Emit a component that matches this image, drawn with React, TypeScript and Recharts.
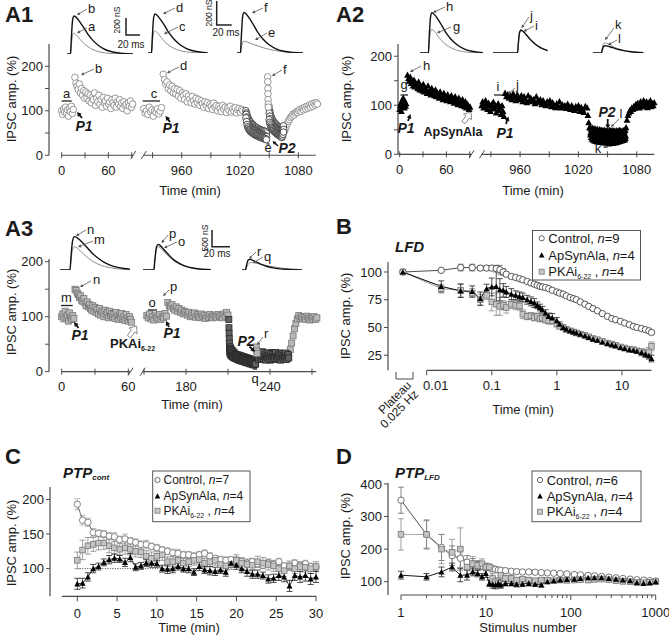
import React from 'react';
import { ScatterChart, Scatter, ComposedChart, LineChart, Line, XAxis, YAxis, ReferenceLine, ErrorBar } from 'recharts';

const FONT = '"Liberation Sans", Arial, Helvetica, sans-serif';
const AX = '#4a4a4a';
const TXT = '#1a1a1a';

// ================= A panels: sweeps {start (min), step (min), IPSC amplitude (%)} =================
const A1_BASE1 = { t0: 0, dt: 1.25, v: [100, 92, 104, 97, 108, 95, 102, 88, 105, 98, 110, 94, 103] };
const A1_PTP1 = { t0: 17, dt: 1.4, v: [175, 162, 155, 148, 160, 140, 150, 135, 145, 128, 142, 130, 138, 122, 135, 118, 130, 125, 140, 112, 128, 120, 135, 115, 125, 108, 130, 118, 122, 110, 128, 115, 120, 105, 125, 118, 112, 128, 108, 120, 115, 125, 110, 118, 105, 120, 112, 115, 100, 118, 110, 122, 108, 115] };
const A1_BASE2 = { t0: 921, dt: 1.4, v: [105, 95, 100, 92, 108, 98, 102, 88, 100, 96, 104, 93, 99, 107] };
const A1_PTP2 = { t0: 941, dt: 1.3, v: [182, 170, 160, 165, 150, 158, 145, 155, 140, 150, 138, 148, 133, 145, 128, 140, 135, 125, 138, 120, 133, 126, 118, 132, 122, 115, 128, 118, 125, 112, 122, 116, 108, 120, 112, 118, 105, 115, 110, 103, 117, 108, 112, 100, 110, 105, 98, 112, 103, 108, 96, 106, 101, 110, 97, 104, 99, 107, 95, 102, 105, 97, 103, 100] };
const A1_LFD1_HI = { t0: 1026, dt: 0.6, v: [100, 95, 91, 85, 83, 79, 78, 74, 75, 71, 71, 68, 69, 65, 66, 63, 64, 61, 62, 59, 61, 58, 59, 57, 58, 55, 57, 54, 56, 53, 55, 52, 54, 51, 53, 50] };
const A1_LFD1_MID = { t0: 1026.3, dt: 0.6, v: [92, 86, 79, 75, 71, 69, 66, 65, 63, 62, 60, 59, 58, 57, 56, 55, 55, 53, 53, 52, 51, 51, 50, 49, 49, 48, 47, 47, 46, 46, 45, 44, 44, 43, 43, 42] };
const A1_LFD1_LO = { t0: 1026.1, dt: 0.6, v: [84, 76, 69, 64, 61, 58, 57, 55, 53, 53, 51, 50, 50, 48, 48, 46, 47, 45, 45, 44, 44, 42, 43, 41, 42, 40, 41, 39, 40, 38, 39, 37, 38, 36, 37, 35] };
const A1_P2 = { t0: 1048.4, dt: 0.12, v: [176, 165, 150, 138, 125, 115, 108] };
const A1_LFD2_HI = { t0: 1049.8, dt: 0.55, v: [110, 101, 96, 89, 87, 82, 81, 77, 77, 73, 73, 70, 71, 67, 68, 65, 66, 63, 64, 61, 63, 60, 61, 58, 59, 61, 63, 66] };
const A1_LFD2_MID = { t0: 1050.1, dt: 0.55, v: [95, 88, 82, 78, 75, 72, 70, 68, 66, 64, 63, 62, 60, 59, 58, 57, 56, 55, 54, 53, 53, 52, 51, 50, 50, 52, 55, 58] };
const A1_LFD2_LO = { t0: 1049.9, dt: 0.55, v: [80, 74, 70, 66, 63, 61, 59, 57, 56, 54, 53, 52, 51, 50, 49, 48, 47, 46, 45, 45, 44, 43, 42, 41, 40, 43, 47, 52] };
const A1_REC = { t0: 1066, dt: 1.2, v: [55, 62, 70, 76, 80, 85, 88, 92, 90, 95, 98, 96, 100, 103, 99, 105, 102, 108, 104, 110, 106, 112, 108, 115, 110, 117, 113, 118, 115] };

const A2_BASE1 = { t0: 0, dt: 0.75, v: [92, 100, 105, 88, 110, 97, 115, 102, 95, 108, 99, 104] };
const A2_PTP1 = { t0: 10, dt: 1.2, v: [162, 155, 150, 158, 145, 148, 140, 152, 138, 145, 142, 135, 148, 132, 140, 138, 130, 143, 128, 135, 133, 125, 140, 128, 130, 122, 135, 125, 128, 120, 132, 118, 126, 122, 115, 128, 118, 120, 112, 125, 115, 118, 110, 122, 112, 115, 108, 120, 110, 113, 105, 118, 108, 112, 102, 115, 106, 110, 100, 112, 104, 98, 108, 95, 103, 100, 92, 97] };
const A2_BASE2 = { t0: 920.5, dt: 1.0, v: [100, 108, 95, 104, 110, 98, 92, 105, 100, 88, 102, 96, 107, 93, 100, 85, 98, 104, 90, 96, 82, 100, 88, 78] };
const A2_PTP2 = { t0: 944.5, dt: 1.4, v: [125, 118, 122, 115, 120, 112, 124, 117, 110, 122, 115, 112, 120, 108, 118, 113, 106, 120, 110, 115, 108, 112, 104, 118, 109, 106, 112, 102, 110, 105, 100, 108, 103, 110, 98, 106, 101, 96, 104, 99, 108, 95, 102, 97, 100, 94, 103, 98, 92, 100, 95, 90, 98, 93, 100, 88, 96, 91, 86, 98] };
const A2_DROP = { t0: 1029, dt: 0.8, v: [95, 80, 65, 55] };
const A2_LFD_HI = { t0: 1032.2, dt: 0.8, v: [55, 52, 50, 54, 51, 49, 53, 50, 48, 52, 49, 47, 51, 48, 50, 46, 49, 47, 50, 45, 48, 46, 49, 44, 47, 50, 46, 48, 45, 49, 46, 48, 44, 47, 49, 45, 48, 46, 50, 47, 45, 48, 46, 49, 47, 50] };
const A2_LFD_MID = { t0: 1032.6, dt: 0.8, v: [45, 42, 40, 38, 41, 37, 39, 36, 40, 35, 38, 36, 39, 34, 37, 35, 38, 33, 36, 34, 37, 35, 33, 36, 34, 38, 35, 37, 33, 36, 38, 34, 37, 35, 39, 36, 38, 35, 37, 40, 38, 36, 39, 37, 40, 38] };
const A2_LFD_LO = { t0: 1032.4, dt: 0.8, v: [40, 35, 32, 30, 33, 28, 31, 27, 30, 26, 29, 27, 25, 28, 26, 29, 24, 27, 25, 28, 26, 24, 27, 25, 22, 26, 24, 27, 25, 23, 26, 28, 24, 27, 25, 29, 26, 28, 27, 30, 28, 31, 29, 32, 30, 33] };
const A2_REC = { t0: 1069, dt: 1.0, v: [55, 70, 80, 85, 90, 88, 95, 92, 98, 94, 102, 97, 105, 100, 95, 108, 102, 98, 110, 104, 100, 108, 96, 105, 102, 110, 98, 104, 100, 106] };

const A3_BASE1 = { t0: 0, dt: 1.0, v: [100, 105, 96, 110, 98, 103, 92, 107, 99, 95, 102, 97] };
const A3_PTP1 = { t0: 12, dt: 1.0, v: [150, 148, 143, 140, 135, 138, 130, 128, 133, 125, 120, 127, 118, 122, 115, 112, 120, 110, 117, 108, 113, 105, 115, 103, 110, 107, 100, 112, 104, 108, 98, 110, 102, 106, 100, 104, 97, 108, 101, 95, 103, 99, 106, 96, 100, 93, 104, 97, 92, 100, 95, 90] };
const A3_BASE2 = { t0: 152, dt: 1.0, v: [102, 98, 105, 96, 100, 94, 103, 99, 97, 104, 95, 100, 98, 106, 101] };
const A3_PTP2 = { t0: 167, dt: 1.0, v: [126, 120, 118, 122, 115, 112, 118, 110, 115, 108, 112, 105, 110, 107, 103, 108, 100, 105, 102, 107, 99, 104, 101, 98, 105, 100, 103, 97, 102, 99, 104, 100, 98, 103, 101, 99, 104, 100, 102, 98, 105, 101, 108, 103] };
const A3_DROP = { t0: 210.6, dt: 0.1, v: [95, 80, 70, 60, 52, 45, 40, 36, 33] };
const A3_LFD1_HI = { t0: 211.6, dt: 0.4, v: [45, 42, 40, 38, 38, 35, 36, 33, 34, 31, 31, 30, 28, 31, 29, 27, 30, 28, 26, 29, 27, 25, 28, 26, 24, 27, 25, 23, 26, 24, 22, 25, 23, 21, 24, 22, 20, 23, 21, 19, 22, 20, 18, 21, 19, 20] };
const A3_LFD1_MID = { t0: 211.8, dt: 0.4, v: [38, 36, 34, 33, 33, 31, 31, 29, 30, 28, 28, 27, 25, 28, 26, 24, 27, 25, 23, 26, 24, 22, 25, 23, 21, 24, 22, 20, 23, 21, 19, 22, 20, 18, 21, 19, 17, 20, 18, 16, 19, 17, 15, 18, 16, 17] };
const A3_LFD1_LO = { t0: 211.7, dt: 0.4, v: [32, 30, 29, 28, 28, 26, 27, 25, 26, 24, 25, 24, 22, 25, 23, 21, 24, 22, 20, 23, 21, 19, 22, 20, 18, 21, 19, 17, 20, 18, 16, 19, 17, 15, 18, 16, 14, 17, 15, 13, 16, 14, 12, 15, 13, 14] };
const A3_P2 = { t0: 230.2, dt: 0.3, v: [45, 38, 33] };
const A3_LFD2_A = { t0: 231.2, dt: 0.5, v: [30, 35, 25, 32, 28, 36, 24, 31, 27, 34, 23, 30, 26, 33, 22, 29, 25, 32, 21, 28, 35, 24, 30, 26, 33, 22, 29, 25, 31, 23, 28, 34, 24, 30, 26, 32, 22, 29, 25, 31, 27, 33, 24, 30, 28] };
const A3_LFD2_B = { t0: 231.45, dt: 0.5, v: [27, 22, 33, 26, 31, 23, 29, 36, 24, 28, 32, 21, 27, 34, 25, 30, 23, 28, 33, 26, 22, 31, 27, 24, 29, 35, 23, 28, 26, 32, 24, 29, 21, 27, 33, 25, 30, 23, 28, 34, 26, 22, 29, 31, 25] };
const A3_REC = { t0: 254.5, dt: 1.0, v: [40, 52, 65, 78, 88, 96, 102, 97, 100, 96, 99, 95, 101, 97, 94, 99, 96, 100, 95, 98] };

// broken time axes: {t0, t1, d0 (axis units at t0), k (units per min)}
type Seg = { t0: number; t1: number; d0: number; k: number };
const A1_SEGS: Seg[] = [{ t0: 0, t1: 92, d0: 12.7, k: 0.778 }, { t0: 921, t1: 1098, d0: 94.8, k: 0.972 }];
const A2_SEGS: Seg[] = [{ t0: 0, t1: 92, d0: 1.7, k: 0.778 }, { t0: 920.5, t1: 1098, d0: 83.7, k: 0.972 }];
const A3_SEGS: Seg[] = [{ t0: 0, t1: 62, d0: 12.7, k: 1.11 }, { t0: 149, t1: 273, d0: 93.6, k: 1.4 }];
const A1_XT = [[0, '0'], [30, ''], [60, '60'], [90, ''], [930, ''], [960, '960'], [990, ''], [1020, '1020'], [1050, ''], [1080, '1080']];
const A2_XT = A1_XT;
const A3_XT = [[0, '0'], [30, ''], [60, '60'], [150, ''], [180, '180'], [210, ''], [240, '240'], [270, '']];

// ================= Insets: sample traces (ms, nS) =================
const TR_T = [-40, -5, 0, 1, 3, 5, 7, 10, 14, 19, 25, 32, 40, 50, 62, 75, 90];
const TR_A = [0, 0, 0, 90, 225, 247, 235, 210, 170, 125, 85, 52, 28, 12, 4, 1, 0];
const TR_B = [0, 0, 0, 150, 400, 447, 440, 415, 370, 310, 230, 160, 100, 50, 20, 6, 0];
const TR_C = [0, 0, 0, 95, 235, 260, 248, 222, 180, 132, 90, 55, 30, 13, 4, 1, 0];
const TR_D = [0, 0, 0, 155, 410, 459, 450, 425, 380, 318, 236, 164, 102, 51, 20, 6, 0];
const TR_E = [0, 0, 0, 50, 120, 137, 135, 128, 115, 100, 82, 63, 45, 28, 14, 5, 0];
const TR_F = [0, 0, 0, 160, 425, 478, 468, 440, 392, 325, 240, 165, 103, 52, 20, 6, 0];
const TR_G = [0, 0, 0, 100, 250, 279, 268, 240, 195, 145, 100, 62, 35, 15, 5, 1, 0];
const TR_H = [0, 0, 0, 160, 420, 474, 465, 440, 392, 325, 240, 165, 103, 52, 20, 6, 0];
const TR_I = [0, 0, 0, 90, 235, 262, 255, 235, 200, 155, 110, 70, 40, 18, 6, 2, 0];
const TR_J = [0, 0, 0, 95, 245, 270, 262, 238, 200, 152, 105, 65, 36, 16, 5, 1, 0];
const TR_K = [0, 0, 0, 45, 108, 121, 116, 104, 86, 65, 45, 28, 16, 7, 2, 0, 0];
const TR_L = [0, 0, 0, 30, 76, 86, 84, 78, 68, 55, 41, 28, 17, 8, 3, 1, 0];
const TR_M = [0, 0, 0, 250, 620, 700, 680, 620, 520, 400, 280, 180, 105, 50, 20, 6, 0];
const TR_N = [0, 0, 0, 350, 880, 1000, 985, 930, 830, 690, 520, 360, 220, 110, 45, 15, 0];
const TR_O = [0, 0, 0, 240, 620, 700, 670, 600, 490, 360, 240, 145, 80, 35, 12, 3, 0];
const TR_P = [0, 0, 0, 270, 690, 770, 740, 660, 540, 400, 265, 160, 88, 38, 13, 4, 0];
const TR_Q = [0, 0, 0, 60, 170, 220, 225, 215, 195, 165, 130, 95, 62, 33, 14, 5, 0];
const TR_R = [0, 0, 0, 120, 290, 320, 305, 270, 220, 160, 105, 62, 34, 14, 5, 1, 0];

// ================= B: LFD (time in min, % of plateau) =================
const B_PLATEAU = 0.0043; // axis position of the "Plateau 0.025 Hz" point
const B_T = [0.0167, 0.0333, 0.05, 0.0667, 0.0833, 0.1, 0.117, 0.133, 0.15, 0.167, 0.2, 0.233, 0.267, 0.3, 0.35, 0.4, 0.45, 0.5, 0.55, 0.6, 0.67, 0.75, 0.85, 1.0, 1.1, 1.25, 1.4, 1.6, 1.8, 2.0, 2.3, 2.7, 3.1, 3.6, 4.2, 5, 6, 7, 8, 9.5, 11, 13, 15, 17, 20, 23, 26, 28.5];
const B_CTRL = [101.5, 104, 104, 103.5, 103.5, 103.5, 103, 102, 100, 98, 96, 95, 94, 93, 91.5, 90, 89, 88, 87, 86.5, 86, 85, 83.5, 82, 81, 80, 78.5, 77, 76, 75, 73, 71, 69, 67, 65, 62.5, 60, 58, 57, 55.5, 54, 52.5, 51, 50, 49, 48, 47, 45.5];
const B_CTRL_E = [1, 3, 3, 2, 2, 2, 3, 4, 3, 2, 2, 2, 2, 1, 1, 1, 1, 1, 1, 1, 1, 1, 1, 1, 1, 1, 1, 1, 1, 1, 1, 1, 1, 1, 1, 1, 1, 1, 1, 1, 1, 1, 1, 1, 1, 1, 1, 1];
const B_APS = [87, 83, 82.5, 76, 85, 86.5, 87, 84, 83.5, 82, 80, 79, 78, 77, 75, 73.5, 72, 70, 68, 66, 63, 60, 58.5, 56, 53, 50, 48.5, 47, 46, 45, 44, 42.5, 41, 39.5, 38.5, 37, 35.5, 34.5, 33.5, 32, 31, 30, 29.5, 28.5, 27.5, 26, 24.5, 22];
const B_APS_E = [5, 6, 5, 6, 4, 8, 15, 10, 6, 5, 5, 4, 4, 4, 4, 4, 4, 3, 3, 3, 3, 3, 4, 3, 2, 2, 2, 2, 2, 2, 2, 2, 2, 2, 2, 2, 2, 2, 2, 2, 2, 2, 2, 2, 3, 3, 3, 3];
const B_PKA = [85, 83.5, 81, 75, 79, 73, 71, 69, 70, 68, 71, 70, 69.5, 62, 60, 60.5, 59, 60, 58, 58.5, 57, 56, 56, 53, 51, 50, 48, 47, 46, 45, 44, 43, 41.5, 40, 39, 37.5, 36, 35, 34, 32.5, 31.5, 30.5, 30, 29, 28, 27, 28, 33];
const B_PKA_E = [4, 6, 4, 5, 4, 8, 10, 8, 4, 5, 4, 4, 4, 4, 3, 3, 3, 3, 3, 3, 3, 3, 3, 2, 2, 2, 2, 2, 2, 2, 2, 2, 2, 2, 2, 2, 2, 2, 2, 2, 2, 2, 2, 2, 2, 3, 4, 4];

// ================= C: PTP cont (sweeps every 40 s) =================
const C_DT = 40 / 60;
const C_CTRL = [193, 170, 167, 152, 151, 150, 147, 146, 142, 143, 140, 138, 135, 135, 132, 130, 127, 125, 123, 122, 120, 120, 118, 120, 122, 118, 115, 113, 112, 113, 112, 110, 108, 110, 107, 105, 108, 106, 110, 104, 103, 108, 105, 107, 103, 102];
const C_CTRL_E = [8, 7, 6, 6, 5, 5, 5, 6, 5, 7, 5, 5, 5, 6, 5, 5, 5, 5, 5, 6, 5, 5, 5, 5, 5, 5, 4, 5, 5, 4, 5, 5, 4, 5, 5, 4, 5, 5, 5, 4, 5, 5, 4, 5, 5, 4];
const C_APS = [78, 79, 88, 100, 103, 109, 113, 115, 114, 109, 116, 102, 104, 108, 108, 107, 100, 99, 100, 103, 100, 100, 95, 103, 98, 97, 96, 98, 95, 108, 105, 100, 96, 92, 92, 90, 85, 86, 90, 88, 75, 90, 88, 90, 85, 88];
const C_APS_E = [8, 7, 6, 6, 5, 5, 6, 6, 5, 6, 6, 5, 5, 5, 6, 5, 5, 6, 6, 5, 5, 6, 5, 6, 5, 6, 6, 5, 6, 6, 6, 6, 7, 6, 6, 5, 6, 6, 7, 7, 8, 7, 8, 8, 8, 8];
const C_PKA = [112, 127, 133, 135, 137, 137, 133, 130, 128, 130, 128, 125, 124, 118, 115, 118, 120, 110, 110, 112, 108, 110, 112, 113, 108, 110, 112, 106, 104, 106, 112, 108, 106, 105, 110, 108, 106, 104, 100, 97, 104, 100, 103, 102, 100, 103];
const C_PKA_E = [12, 14, 12, 10, 10, 9, 10, 9, 8, 9, 8, 8, 8, 8, 9, 8, 8, 7, 7, 8, 7, 7, 7, 7, 7, 7, 7, 7, 7, 7, 8, 8, 8, 8, 8, 8, 8, 8, 8, 8, 7, 7, 7, 7, 7, 7];

// ================= D: PTP LFD (stimulus number) =================
const D_N = [1, 2, 3, 4, 5, 6, 7, 8, 9, 10, 11, 12, 13, 14, 15, 17, 20, 23, 27, 32, 38, 45, 53, 63, 75, 90, 110, 130, 160, 190, 230, 280, 340, 410, 500, 600, 720, 850, 1000];
const D_CTRL = [350, 245, 205, 180, 172, 160, 155, 150, 148, 145, 143, 140, 138, 136, 135, 134, 132, 131, 130, 130, 129, 128, 127, 126, 125, 124, 122, 121, 119, 118, 116, 114, 112, 110, 108, 106, 105, 103, 102];
const D_CTRL_E = [40, 42, 40, 30, 28, 20, 16, 12, 10, 10, 8, 8, 7, 7, 6, 6, 5, 5, 5, 5, 4, 4, 4, 4, 4, 4, 4, 4, 3, 3, 3, 3, 3, 3, 3, 3, 3, 3, 3];
const D_PKA = [245, 245, 200, 190, 200, 145, 155, 150, 155, 145, 145, 110, 100, 95, 120, 110, 110, 105, 108, 105, 103, 105, 104, 103, 105, 104, 105, 106, 105, 107, 108, 106, 103, 101, 100, 98, 97, 98, 100];
const D_PKA_E = [48, 45, 45, 40, 65, 22, 22, 15, 15, 12, 10, 15, 12, 12, 15, 10, 10, 8, 8, 8, 6, 6, 6, 5, 5, 5, 5, 5, 5, 5, 5, 5, 4, 4, 4, 4, 4, 4, 4];
const D_APS = [120, 115, 130, 145, 120, 120, 130, 125, 115, 125, 95, 92, 90, 95, 90, 95, 95, 92, 93, 95, 92, 90, 100, 103, 105, 107, 108, 110, 112, 112, 112, 110, 108, 105, 103, 97, 95, 97, 100];
const D_APS_E = [12, 10, 15, 12, 20, 15, 12, 10, 10, 12, 10, 12, 12, 10, 10, 8, 8, 8, 8, 8, 6, 6, 6, 6, 6, 5, 5, 5, 5, 5, 5, 5, 5, 5, 5, 5, 5, 5, 5];
const D_MINOR = [2, 3, 4, 5, 6, 7, 8, 9, 20, 30, 40, 50, 60, 70, 80, 90, 200, 300, 400, 500, 600, 700, 800, 900];

// ================= helpers =================
type Box = { x0: number; y0: number; x1: number; y1: number };
const frame = (b: Box, yw = 44) => {
  const ml = 4, mt = 8, mr = 24, mb = 4, xh = 30;
  return {
    style: { position: 'absolute' as const, left: b.x0 - yw - ml, top: b.y0 - mt },
    width: b.x1 - b.x0 + yw + ml + mr,
    height: b.y1 - b.y0 + mt + xh + mb,
    margin: { left: ml, top: mt, right: mr, bottom: mb },
    yw,
  };
};
const toD = (segs: Seg[], t: number) => {
  const s = segs.find((g) => t >= g.t0 - 15 && t <= g.t1 + 15) || segs[0];
  return s.d0 + s.k * (t - s.t0);
};
const pts = (segs: Seg[], s: { t0: number; dt: number; v: number[] }) => s.v.map((v, i) => ({ x: toD(segs, s.t0 + i * s.dt), y: v }));
const rows = (xs: number[], ys: number[], es: number[]) => xs.map((x, i) => ({ x, y: ys[i], e: es[i] }));

const circ = (stroke: string, r = 3.3, fill = '#fff') => (p: any) => <circle key={`c${p.index}`} cx={p.cx} cy={p.cy} r={r} fill={fill} stroke={stroke} strokeWidth={0.9} />;
const tri = (fill: string, s = 3.3) => (p: any) => <path key={`t${p.index}`} d={`M${p.cx},${p.cy - s}L${p.cx + s},${p.cy + s * 0.85}L${p.cx - s},${p.cy + s * 0.85}Z`} fill={fill} />;
const sq = (fill: string, stroke: string, s = 3) => (p: any) => <rect key={`s${p.index}`} x={p.cx - s} y={p.cy - s} width={2 * s} height={2 * s} fill={fill} stroke={stroke} strokeWidth={0.8} />;

const makeTick = (labelOf: (v: number) => string, mode: 'up' | 'down' | 'cross', dy: number, isMajor: (v: number) => boolean = () => true, dxOf: (v: number) => number = () => 0) => (p: any) => {
  const v = p.payload.value;
  const lab = labelOf(v);
  const len = isMajor(v) ? 5 : 3;
  const y1 = mode === 'down' ? p.y : p.y - (mode === 'cross' ? 3 : len);
  const y2 = mode === 'up' ? p.y : p.y + (mode === 'cross' ? 3 : len);
  return (
    <g>
      <line x1={p.x} x2={p.x} y1={y1} y2={y2} stroke={AX} strokeWidth={1} />
      {lab ? <text x={p.x + dxOf(v)} y={p.y + dy} textAnchor="middle" fontSize={13} fill={TXT}>{lab}</text> : null}
    </g>
  );
};

const yAxisProps = { axisLine: { stroke: AX, strokeWidth: 1.2 }, tickLine: { stroke: AX }, tick: { fontSize: 13, fill: TXT }, tickSize: 4, interval: 0 as const };

const APanel = ({ box, segs, yMax, xt, series, spans }: any) => {
  const f = frame(box);
  const tks = xt.map((k: any) => ({ d: toD(segs, k[0]), l: k[1] }));
  const lab = (v: number) => { const m = tks.find((k: any) => Math.abs(k.d - v) < 0.01); return m ? m.l : ''; };
  return (
    <div style={f.style}>
      <ScatterChart width={f.width} height={f.height} margin={f.margin}>
        <XAxis type="number" dataKey="x" domain={[0, box.x1 - box.x0]} ticks={tks.map((k: any) => k.d)} tick={makeTick(lab, 'cross', 19.5)} tickSize={0} tickMargin={0} tickLine={false} axisLine={false} interval={0} />
        <YAxis type="number" dataKey="y" domain={[0, yMax]} ticks={[0, 50, 100, 150, 200]} width={f.yw} tickFormatter={(v: number) => (v % 100 === 0 ? String(v) : '')} {...yAxisProps} />
        {spans.map((s: number[], i: number) => (
          <ReferenceLine key={`ax${i}`} segment={[{ x: toD(segs, s[0]), y: 0 }, { x: toD(segs, s[1]), y: 0 }]} stroke={AX} strokeWidth={1.2} ifOverflow="visible" />
        ))}
        {series.map((s: any, i: number) => <Scatter key={`s${i}`} data={s.data} shape={s.shape} isAnimationActive={false} />)}
      </ScatterChart>
    </div>
  );
};

const Inset = ({ onset, base, pxms, nspx, tMin, tMax, h, g, k }: any) => {
  const data = TR_T.map((t, i) => ({ t, g: g[i], k: k[i] }));
  return (
    <div style={{ position: 'absolute', left: onset + tMin * pxms, top: base - h }}>
      <LineChart width={(tMax - tMin) * pxms} height={h} margin={{ top: 0, right: 0, bottom: 0, left: 0 }} data={data}>
        <XAxis dataKey="t" type="number" domain={[tMin, tMax]} hide allowDataOverflow />
        <YAxis type="number" domain={[0, h * nspx]} hide allowDataOverflow />
        <Line dataKey="g" type="monotone" stroke="#8c8c8c" strokeWidth={1} dot={false} isAnimationActive={false} />
        <Line dataKey="k" type="monotone" stroke="#111" strokeWidth={1.4} dot={false} isAnimationActive={false} />
      </LineChart>
    </div>
  );
};

// ================= overlay pieces =================
const Arrow = ({ x1, y1, x2, y2, w = 0.8, c = '#555', head = 3.5 }: any) => {
  const a = Math.atan2(y2 - y1, x2 - x1);
  const p1 = [x2 - head * Math.cos(a - 0.5), y2 - head * Math.sin(a - 0.5)];
  const p2 = [x2 - head * Math.cos(a + 0.5), y2 - head * Math.sin(a + 0.5)];
  return (
    <g>
      <line x1={x1} y1={y1} x2={x2 - 0.6 * head * Math.cos(a)} y2={y2 - 0.6 * head * Math.sin(a)} stroke={c} strokeWidth={w} />
      <path d={`M${x2},${y2}L${p1[0]},${p1[1]}L${p2[0]},${p2[1]}Z`} fill={c} />
    </g>
  );
};
const OpenArrow = ({ x, y }: any) => (
  <path transform={`translate(${x},${y}) rotate(-55)`} d="M0,0 L-6,-5 L-6,-2 L-13,-2 L-13,2 L-6,2 L-6,5 Z" fill="#fff" stroke="#8a8a8a" strokeWidth={0.9} />
);
const T = ({ x, y, s = 13, a = 'start', b, i, children }: any) => (
  <text x={x} y={y} fontSize={s} textAnchor={a} fontWeight={b ? 'bold' : undefined} fontStyle={i ? 'italic' : undefined} fill={TXT}>{children}</text>
);
const VT = ({ x, y, s = 13, children }: any) => (
  <text transform={`translate(${x},${y}) rotate(-90)`} textAnchor="middle" fontSize={s} fill={TXT}>{children}</text>
);
const P = ({ x, y, n }: any) => <T x={x} y={y} s={14} a="middle" b i>{n}</T>;
const Bar = ({ x1, x2, y }: any) => <line x1={x1} x2={x2} y1={y} y2={y} stroke="#222" strokeWidth={1.3} />;
const Slash = ({ x, y }: any) => <line x1={x - 2.5} y1={y + 4} x2={x + 2.5} y2={y - 4} stroke={AX} strokeWidth={1} />;

const Mk = ({ kind, x, y }: any) => {
  if (kind === 'c') return <circle cx={x} cy={y} r={2.6} fill="#fff" stroke="#555" strokeWidth={0.9} />;
  if (kind === 't') return <path d={`M${x},${y - 2.8}L${x + 2.8},${y + 2.4}L${x - 2.8},${y + 2.4}Z`} fill="#000" />;
  return <rect x={x - 2.5} y={y - 2.5} width={5} height={5} fill="#c8c8c8" stroke="#777" strokeWidth={0.8} />;
};
const LegendSvg = ({ x, y, w, h, ys, mx, tx, ns, s = 13 }: any) => (
  <g>
    <rect x={x} y={y} width={w} height={h} fill="#fff" stroke="#555" strokeWidth={1} />
    <Mk kind="c" x={mx} y={ys[0]} />
    <Mk kind="t" x={mx} y={ys[1]} />
    <Mk kind="s" x={mx} y={ys[2]} />
    <text x={tx} y={ys[0] + s * 0.36} fontSize={s} fill={TXT}>Control, <tspan fontStyle="italic">n</tspan>={ns[0]}</text>
    <text x={tx} y={ys[1] + s * 0.36} fontSize={s} fill={TXT}>ApSynAla, <tspan fontStyle="italic">n</tspan>={ns[1]}</text>
    <text x={tx} y={ys[2] + s * 0.36} fontSize={s} fill={TXT}>PKAi<tspan fontSize={7} dy={3}>6-22</tspan><tspan dy={-3}> , </tspan><tspan fontStyle="italic">n</tspan>={ns[2]}</text>
  </g>
);

// ================= main =================
const A1_BOX = { x0: 49, y0: 43.75, x1: 320, y1: 155 };
const A2_BOX = { x0: 398.3, y0: 44, x1: 656, y1: 154.3 };
const A3_BOX = { x0: 49, y0: 259, x1: 319, y1: 371.7 };
const B_BOX = { x0: 388, y0: 261.7, x1: 651.5, y1: 370 };
const C_BOX = { x0: 50, y0: 486.7, x1: 316, y1: 596 };
const D_BOX = { x0: 388, y0: 483, x1: 655.7, y1: 595 };

export default function App() {
  const gO = circ('#8a8a8a');
  const gOd = circ('#3a3a3a');
  const bT = tri('#000', 3.4);
  const sqL = sq('#b8b8b8', '#777', 3);
  const sqD = sq('#606060', '#2a2a2a', 3);

  const a1 = [A1_BASE1, A1_PTP1, A1_BASE2, A1_PTP2, A1_REC].map((s) => ({ data: pts(A1_SEGS, s), shape: gO }))
    .concat([A1_LFD1_HI, A1_LFD1_MID, A1_LFD1_LO, A1_LFD2_HI, A1_LFD2_MID, A1_LFD2_LO].map((s) => ({ data: pts(A1_SEGS, s), shape: gOd })))
    .concat([{ data: pts(A1_SEGS, A1_P2), shape: gO }]);
  const a2 = [A2_BASE1, A2_PTP1, A2_BASE2, A2_PTP2, A2_DROP, A2_LFD_HI, A2_LFD_MID, A2_LFD_LO, A2_REC].map((s) => ({ data: pts(A2_SEGS, s), shape: bT }));
  const a3 = [A3_BASE1, A3_PTP1, A3_BASE2, A3_PTP2, A3_REC].map((s) => ({ data: pts(A3_SEGS, s), shape: sqL }))
    .concat([A3_DROP, A3_LFD1_HI, A3_LFD1_MID, A3_LFD1_LO, A3_LFD2_A, A3_LFD2_B].map((s) => ({ data: pts(A3_SEGS, s), shape: sqD })))
    .concat([{ data: pts(A3_SEGS, A3_P2), shape: sqL }]);

  const bF = frame(B_BOX), cF = frame(C_BOX), dF = frame(D_BOX);
  const bCtrl = [{ x: B_PLATEAU, y: 100, e: 0 }, ...rows(B_T, B_CTRL, B_CTRL_E)];
  const bAps = [{ x: B_PLATEAU, y: 100, e: 0 }, ...rows(B_T, B_APS, B_APS_E)];
  const bPka = [{ x: B_PLATEAU, y: 100, e: 0 }, ...rows(B_T, B_PKA, B_PKA_E)];
  const cT = C_CTRL.map((_, i) => i * C_DT);
  const cCtrl = rows(cT, C_CTRL, C_CTRL_E), cAps = rows(cT, C_APS, C_APS_E), cPka = rows(cT, C_PKA, C_PKA_E);
  const dCtrl = rows(D_N, D_CTRL, D_CTRL_E), dAps = rows(D_N, D_APS, D_APS_E), dPka = rows(D_N, D_PKA, D_PKA_E);

  const bLab = (v: number) => ({ 0.01: '0.01', 0.1: '0.1', 1: '1', 10: '10' } as any)[String(v)] || '';
  const dLab = (v: number) => ([1, 10, 100, 1000].includes(v) ? String(v) : '');

  const px1 = (segs: Seg[], x0: number, t: number) => x0 + toD(segs, t);

  return (
    <div style={{ position: 'absolute', left: 0, top: 0, width: 669, height: 635, background: '#fff', fontFamily: FONT, overflow: 'hidden' }}>
      <APanel box={A1_BOX} segs={A1_SEGS} yMax={250} xt={A1_XT} series={a1} spans={[[0, 92], [921, 1098]]} />
      <APanel box={A2_BOX} segs={A2_SEGS} yMax={225} xt={A2_XT} series={a2} spans={[[-2, 92], [920.5, 1098]]} />
      <APanel box={A3_BOX} segs={A3_SEGS} yMax={205} xt={A3_XT} series={a3} spans={[[0, 62], [149, 273]]} />

      <Inset onset={70} base={54} pxms={0.7} nspx={11.76} tMin={-5} tMax={90} h={46} g={TR_A} k={TR_B} />
      <Inset onset={151.7} base={53.3} pxms={0.7} nspx={11.76} tMin={-5} tMax={80} h={46} g={TR_C} k={TR_D} />
      <Inset onset={240} base={53.3} pxms={0.7} nspx={11.76} tMin={-5} tMax={90} h={46} g={TR_E} k={TR_F} />
      <Inset onset={428.3} base={53} pxms={0.7} nspx={11.76} tMin={-12} tMax={78} h={46} g={TR_G} k={TR_H} />
      <Inset onset={517.7} base={53} pxms={0.7} nspx={11.76} tMin={-35} tMax={43} h={46} g={TR_I} k={TR_J} />
      <Inset onset={601.7} base={53} pxms={0.7} nspx={11.76} tMin={-12} tMax={60} h={46} g={TR_K} k={TR_L} />
      <Inset onset={70} base={270} pxms={0.87} nspx={30} tMin={-11.5} tMax={69} h={42} g={TR_M} k={TR_N} />
      <Inset onset={154} base={270} pxms={0.87} nspx={30} tMin={-12.5} tMax={66} h={42} g={TR_O} k={TR_P} />
      <Inset onset={245} base={270} pxms={0.87} nspx={30} tMin={-4} tMax={65} h={42} g={TR_Q} k={TR_R} />

      {/* B: LFD */}
      <div style={bF.style}>
        <ComposedChart width={bF.width} height={bF.height} margin={bF.margin}>
          <XAxis type="number" dataKey="x" scale="log" domain={[0.00254, 28.5]} ticks={[0.01, 0.1, 1, 10]} tick={makeTick(bLab, 'down', 20, () => true, (v) => (v === 0.01 ? 9 : 0))} tickSize={0} tickMargin={0} tickLine={false} axisLine={false} interval={0} />
          <YAxis type="number" domain={[11.4, 109]} ticks={[25, 50, 75, 100]} width={bF.yw} {...yAxisProps} />
          <ReferenceLine segment={[{ x: 0.01, y: 11.4 }, { x: 28.5, y: 11.4 }]} stroke={AX} strokeWidth={1.2} ifOverflow="visible" />
          <Line data={bPka} dataKey="y" stroke="#9a9a9a" strokeWidth={0.9} dot={sq('#c4c4c4', '#777', 2.8)} activeDot={false} isAnimationActive={false}>
            <ErrorBar dataKey="e" width={3} stroke="#8a8a8a" strokeWidth={0.8} direction="y" />
          </Line>
          <Line data={bCtrl} dataKey="y" stroke="#222" strokeWidth={0.8} dot={circ('#444', 3.2)} activeDot={false} isAnimationActive={false}>
            <ErrorBar dataKey="e" width={3} stroke="#666" strokeWidth={0.8} direction="y" />
          </Line>
          <Line data={bAps} dataKey="y" stroke="#000" strokeWidth={1} dot={tri('#000', 3)} activeDot={false} isAnimationActive={false}>
            <ErrorBar dataKey="e" width={3} stroke="#222" strokeWidth={0.8} direction="y" />
          </Line>
        </ComposedChart>
      </div>

      {/* C: PTP cont */}
      <div style={cF.style}>
        <ComposedChart width={cF.width} height={cF.height} margin={cF.margin}>
          <XAxis type="number" dataKey="x" domain={[-3.43, 30]} ticks={[0, 5, 10, 15, 20, 25, 30]} tick={makeTick((v) => String(v), 'down', 22)} tickSize={0} tickMargin={0} tickLine={false} axisLine={false} interval={0} />
          <YAxis type="number" domain={[60, 218]} ticks={[100, 150, 200]} width={cF.yw} {...yAxisProps} />
          <ReferenceLine segment={[{ x: -1.92, y: 60 }, { x: 30, y: 60 }]} stroke={AX} strokeWidth={1.2} ifOverflow="visible" />
          <ReferenceLine segment={[{ x: 0, y: 100 }, { x: 10.5, y: 100 }]} stroke="#333" strokeWidth={1} strokeDasharray="1 1.5" ifOverflow="visible" />
          <Line data={cCtrl} dataKey="y" stroke="#555" strokeWidth={0.8} dot={circ('#777', 3.2)} activeDot={false} isAnimationActive={false}>
            <ErrorBar dataKey="e" width={3} stroke="#aaa" strokeWidth={0.8} direction="y" />
          </Line>
          <Line data={cPka} dataKey="y" stroke="#9a9a9a" strokeWidth={0.9} dot={sq('#c4c4c4', '#777', 2.8)} activeDot={false} isAnimationActive={false}>
            <ErrorBar dataKey="e" width={3} stroke="#888" strokeWidth={0.8} direction="y" />
          </Line>
          <Line data={cAps} dataKey="y" stroke="#000" strokeWidth={0.8} dot={tri('#000', 3)} activeDot={false} isAnimationActive={false}>
            <ErrorBar dataKey="e" width={3} stroke="#222" strokeWidth={0.8} direction="y" />
          </Line>
        </ComposedChart>
      </div>

      {/* D: PTP LFD */}
      <div style={dF.style}>
        <ComposedChart width={dF.width} height={dF.height} margin={dF.margin}>
          <XAxis type="number" dataKey="x" scale="log" domain={[0.703, 1000]} ticks={[1, 10, 100, 1000, ...D_MINOR]} tick={makeTick(dLab, 'down', 22, (v) => [1, 10, 100, 1000].includes(v))} tickSize={0} tickMargin={0} tickLine={false} axisLine={false} interval={0} />
          <YAxis type="number" domain={[59.2, 402.8]} ticks={[100, 200, 300, 400]} width={dF.yw} {...yAxisProps} />
          <ReferenceLine segment={[{ x: 1, y: 59.2 }, { x: 1000, y: 59.2 }]} stroke={AX} strokeWidth={1.2} ifOverflow="visible" />
          <Line data={dCtrl} dataKey="y" stroke="#222" strokeWidth={0.8} dot={circ('#666', 3.2)} activeDot={false} isAnimationActive={false}>
            <ErrorBar dataKey="e" width={3} stroke="#666" strokeWidth={0.8} direction="y" />
          </Line>
          <Line data={dPka} dataKey="y" stroke="#a0a0a0" strokeWidth={0.9} dot={sq('#c4c4c4', '#777', 2.8)} activeDot={false} isAnimationActive={false}>
            <ErrorBar dataKey="e" width={3} stroke="#888" strokeWidth={0.8} direction="y" />
          </Line>
          <Line data={dAps} dataKey="y" stroke="#000" strokeWidth={0.9} dot={tri('#000', 3)} activeDot={false} isAnimationActive={false}>
            <ErrorBar dataKey="e" width={3} stroke="#222" strokeWidth={0.8} direction="y" />
          </Line>
        </ComposedChart>
      </div>

      {/* annotation overlay */}
      <svg width={669} height={635} style={{ position: 'absolute', left: 0, top: 0, pointerEvents: 'none', fontFamily: FONT }}>
        <T x={5} y={22} s={22} b>A1</T>
        <T x={336} y={22} s={22} b>A2</T>
        <T x={5} y={236} s={22} b>A3</T>
        <T x={336} y={234} s={22} b>B</T>
        <T x={5} y={464} s={22} b>C</T>
        <T x={336} y={464} s={22} b>D</T>

        <VT x={16} y={99}>IPSC amp. (%)</VT>
        <VT x={351} y={99}>IPSC amp. (%)</VT>
        <VT x={16} y={312}>IPSC amp. (%)</VT>
        <VT x={350} y={316}>IPSC amp. (%)</VT>
        <VT x={16} y={543}>IPSC amp. (%)</VT>
        <VT x={350} y={536}>IPSC amp. (%)</VT>
        <T x={190} y={195} a="middle">Time (min)</T>
        <T x={533} y={195} a="middle">Time (min)</T>
        <T x={192} y={409} a="middle">Time (min)</T>
        <T x={523} y={414} a="middle">Time (min)</T>
        <T x={189} y={632} a="middle">Time (min)</T>
        <T x={528} y={632} a="middle">Stimulus number</T>

        <Slash x={px1(A1_SEGS, A1_BOX.x0, 92)} y={155} />
        <Slash x={px1(A1_SEGS, A1_BOX.x0, 921)} y={155} />
        <Slash x={px1(A2_SEGS, A2_BOX.x0, 92)} y={154.3} />
        <Slash x={px1(A2_SEGS, A2_BOX.x0, 920.5)} y={154.3} />
        <Slash x={px1(A3_SEGS, A3_BOX.x0, 62)} y={371.7} />
        <Slash x={px1(A3_SEGS, A3_BOX.x0, 149)} y={371.7} />

        <path d="M126,18 L126,35 L140,35" fill="none" stroke="#222" strokeWidth={1.5} />
        <VT x={120} y={20} s={8.5}>200 nS</VT>
        <T x={131} y={48} s={10} a="middle">20 ms</T>
        <path d="M216.7,1 L216.7,25 L231.7,25" fill="none" stroke="#222" strokeWidth={1.5} />
        <VT x={211.5} y={13} s={8.5}>200 nS</VT>
        <T x={226} y={36} s={10} a="middle">20 ms</T>
        <path d="M212,230 L212,246.7 L230,246.7" fill="none" stroke="#222" strokeWidth={1.5} />
        <VT x={208} y={238} s={8.5}>500 nS</VT>
        <T x={217} y={257} s={10} a="middle">20 ms</T>

        <Arrow x1={87} y1={9} x2={77} y2={15} />
        <T x={88} y={13}>b</T>
        <Arrow x1={87} y1={28} x2={77} y2={33} />
        <T x={88} y={31}>a</T>
        <Arrow x1={175} y1={8} x2={163} y2={14} />
        <T x={176} y={12}>d</T>
        <Arrow x1={178} y1={27} x2={164} y2={34} />
        <T x={179} y={31}>c</T>
        <Arrow x1={263} y1={8} x2={252} y2={13} />
        <T x={264} y={12}>f</T>
        <Arrow x1={267} y1={33} x2={255} y2={40} />
        <T x={268} y={37}>e</T>

        <T x={66.5} y={98} a="middle">a</T>
        <Bar x1={61.7} x2={71.7} y={101} />
        <Arrow x1={94} y1={69} x2={81} y2={75} />
        <T x={95} y={73}>b</T>
        <Arrow x1={82} y1={118} x2={77} y2={112} w={1.8} c="#111" head={5} />
        <P x={84} y={131} n="P1" />
        <T x={154} y={98} a="middle">c</T>
        <Bar x1={142.7} x2={160} y={101} />
        <Arrow x1={170} y1={122} x2={165.5} y2={116} w={1.8} c="#111" head={5} />
        <P x={171} y={133} n="P1" />
        <Arrow x1={179} y1={67} x2={167} y2={73} />
        <T x={180} y={70}>d</T>
        <Arrow x1={282} y1={70} x2={272} y2={76} />
        <T x={283} y={74}>f</T>
        <Bar x1={266.5} x2={269.5} y={144} />
        <T x={268} y={152} a="middle">e</T>
        <Arrow x1={278} y1={146} x2={272.5} y2={141} w={1.5} c="#111" head={4} />
        <P x={287} y={153} n="P2" />

        <Arrow x1={445} y1={7} x2={433} y2={12.5} />
        <T x={446} y={11}>h</T>
        <Arrow x1={451} y1={27} x2={437} y2={33} />
        <T x={453} y={31}>g</T>
        <Arrow x1={529} y1={17} x2={521.5} y2={28} />
        <T x={530} y={20}>j</T>
        <Arrow x1={534} y1={26} x2={523.5} y2={31.5} />
        <T x={535} y={30}>i</T>
        <Arrow x1={614} y1={28} x2={605} y2={40} />
        <T x={615} y={29}>k</T>
        <Arrow x1={617} y1={40} x2={608} y2={45} />
        <T x={618} y={43}>l</T>

        <Arrow x1={421} y1={66} x2={410} y2={72} />
        <T x={423} y={70}>h</T>
        <T x={404} y={89} a="middle">g</T>
        <Bar x1={400.5} x2={408} y={95} />
        <Arrow x1={408} y1={121} x2={410.5} y2={114} w={1.8} c="#111" head={5} />
        <P x={406} y={133} n="P1" />
        <T x={453} y={136} s={12.5} a="middle" b>ApSynAla</T>
        <OpenArrow x={471} y={112} />
        <T x={498} y={91} a="middle">i</T>
        <Bar x1={494} x2={502} y={95} />
        <Arrow x1={515} y1={88} x2={508} y2={94} />
        <T x={516} y={89}>j</T>
        <Arrow x1={506} y1={124} x2={508.5} y2={116.5} w={1.8} c="#111" head={5} />
        <P x={505} y={138} n="P1" />
        <P x={607} y={117} n="P2" />
        <Arrow x1={607.7} y1={119} x2={607.7} y2={129} w={1.8} c="#111" head={5} />
        <Arrow x1={619} y1={119} x2={611} y2={127} />
        <T x={619.5} y={118}>l</T>
        <T x={598} y={153} a="middle">k</T>
        <Bar x1={603.5} x2={607.5} y={147} />

        <Arrow x1={86} y1={230} x2={76} y2={236} />
        <T x={87} y={234}>n</T>
        <Arrow x1={93} y1={241} x2={78} y2={247} />
        <T x={94} y={244}>m</T>
        <Arrow x1={168} y1={235} x2={161.5} y2={243} />
        <T x={169} y={238}>p</T>
        <Arrow x1={177} y1={242} x2={164} y2={248} />
        <T x={178} y={246}>o</T>
        <Arrow x1={256} y1={252} x2={249} y2={259} />
        <T x={257} y={256}>r</T>
        <Arrow x1={263} y1={257} x2={253} y2={263} />
        <T x={264} y={261}>q</T>

        <T x={66.5} y={302} a="middle">m</T>
        <Bar x1={61} x2={72.7} y={305.5} />
        <Arrow x1={78.5} y1={328} x2={74} y2={322} w={1.8} c="#111" head={5} />
        <P x={80} y={340} n="P1" />
        <Arrow x1={91} y1={281} x2={80} y2={287} />
        <T x={93} y={284}>n</T>
        <text x={110} y={348} fontSize={13} fontWeight="bold" fill={TXT}>PKAi<tspan fontSize={7} dy={3}>6-22</tspan></text>
        <OpenArrow x={136.5} y={326} />
        <T x={152} y={307} a="middle">o</T>
        <Bar x1={148} x2={157} y={310} />
        <Arrow x1={169} y1={290} x2={163} y2={296} />
        <T x={170} y={291}>p</T>
        <Arrow x1={169} y1={327} x2={166} y2={321} w={1.8} c="#111" head={5} />
        <P x={172} y={338} n="P1" />
        <P x={246} y={346} n="P2" />
        <Arrow x1={249.5} y1={346.5} x2={255} y2={352} w={1.8} c="#111" head={5} />
        <Arrow x1={263} y1={337} x2={257} y2={345} />
        <T x={264} y={338}>r</T>
        <Bar x1={253} x2={257} y={369} />
        <T x={255} y={383} a="middle">q</T>

        <T x={395} y={252} s={15} b i>LFD</T>
        <path d="M396,372 L396,379 L413,379 L413,372" fill="none" stroke={AX} strokeWidth={1} />
        <text transform="translate(412,386) rotate(-45)" textAnchor="end" fontSize={12} fill={TXT}>Plateau</text>
        <text transform="translate(419,395) rotate(-45)" textAnchor="end" fontSize={12} fill={TXT}>0.025 Hz</text>
        <LegendSvg x={532.5} y={230.5} w={108} h={49.5} ys={[238.3, 255, 271.7]} mx={541.7} tx={548.3} ns={[9, 4, 4]} />

        <text x={63} y={478} fontSize={15} fontWeight="bold" fontStyle="italic" fill={TXT}>PTP<tspan fontSize={8} dy={2}>cont</tspan></text>
        <LegendSvg x={152.7} y={471} w={97.3} h={50.7} ys={[480, 496, 510.7]} mx={157.5} tx={163.5} ns={[7, 4, 4]} s={12} />

        <text x={395} y={478} fontSize={15} fontWeight="bold" fontStyle="italic" fill={TXT}>PTP<tspan fontSize={8} dy={2}>LFD</tspan></text>
        <LegendSvg x={532} y={471} w={109} h={50.7} ys={[480, 496, 511.7]} mx={540} tx={546.7} ns={[6, 4, 4]} />
      </svg>
    </div>
  );
}
